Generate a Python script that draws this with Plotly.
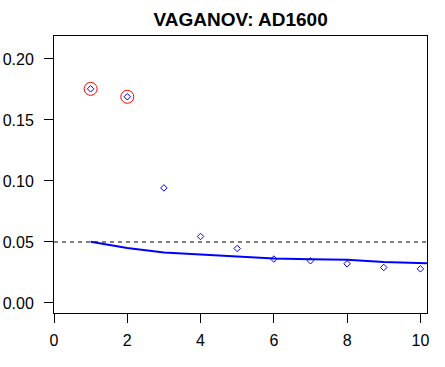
import plotly.graph_objects as go

# Observed points
lag = [1, 2, 3, 4, 5, 6, 7, 8, 9, 10]
value = [0.1755, 0.169, 0.0943, 0.0545, 0.0447, 0.036, 0.0346, 0.0321, 0.0291, 0.028]

# Highlighted (significant) points
hi_lag = [1, 2]
hi_value = [0.1755, 0.169]

# Benchmark curve
curve_x = [1, 2, 3, 4, 5, 6, 7, 8, 9, 10, 11]
curve_y = [0.0501, 0.045, 0.0414, 0.0398, 0.0381, 0.0365, 0.0359, 0.0354, 0.0335, 0.0327, 0.0318]

ref_level = 0.05

x_ticks = [0, 2, 4, 6, 8, 10]
y_ticks = [0.0, 0.05, 0.10, 0.15, 0.20]
y_tick_text = ["0.00", "0.05", "0.10", "0.15", "0.20"]

FONT = "Liberation Sans, Arial, sans-serif"

fig = go.Figure()
fig.add_trace(go.Scatter(x=curve_x, y=curve_y, mode="lines",
                         line=dict(color="#0000FF", width=2), hoverinfo="skip"))
fig.add_trace(go.Scatter(x=lag, y=value, mode="markers",
                         marker=dict(symbol="diamond-open", size=5, color="#0000FF",
                                     line=dict(width=1, color="#0000FF"))))
fig.add_trace(go.Scatter(x=hi_lag, y=hi_value, mode="markers",
                         marker=dict(symbol="circle-open", size=13, color="#FF0000",
                                     line=dict(width=1, color="#FF0000"))))

fig.add_hline(y=ref_level, line=dict(color="black", width=1, dash="4px,4px"))

fig.update_layout(
    width=445, height=367,
    margin=dict(l=54, r=18, t=36, b=54, autoexpand=False),
    paper_bgcolor="white", plot_bgcolor="white",
    showlegend=False,
    font=dict(family=FONT, size=16, color="black"),
    title=dict(text="<b>VAGANOV: AD1600</b>", font=dict(family=FONT, size=19, color="black"),
               x=(54.3 + 427) / 2 / 445, xanchor="center", xref="container",
               y=1 - 19.5 / 367, yanchor="middle", yref="container"),
    xaxis=dict(range=[0, 10.18], tickvals=x_ticks, ticktext=[str(v) for v in x_ticks],
               automargin=False, ticklabelstandoff=4,
               showgrid=False, zeroline=False, showline=True, linecolor="black", linewidth=1,
               mirror=True, ticks="outside", ticklen=9, tickwidth=1, tickcolor="black",
               tickfont=dict(family=FONT, size=16, color="black")),
    yaxis=dict(range=[-0.0082, 0.2188], tickvals=y_ticks, ticktext=y_tick_text,
               automargin=False, ticklabelstandoff=7,
               showgrid=False, zeroline=False, showline=True, linecolor="black", linewidth=1,
               mirror=True, ticks="outside", ticklen=9, tickwidth=1, tickcolor="black",
               tickfont=dict(family=FONT, size=16, color="black")),
)

fig.write_html("out.html", config={"displayModeBar": False},
               post_script="document.body.style.margin='0';")
